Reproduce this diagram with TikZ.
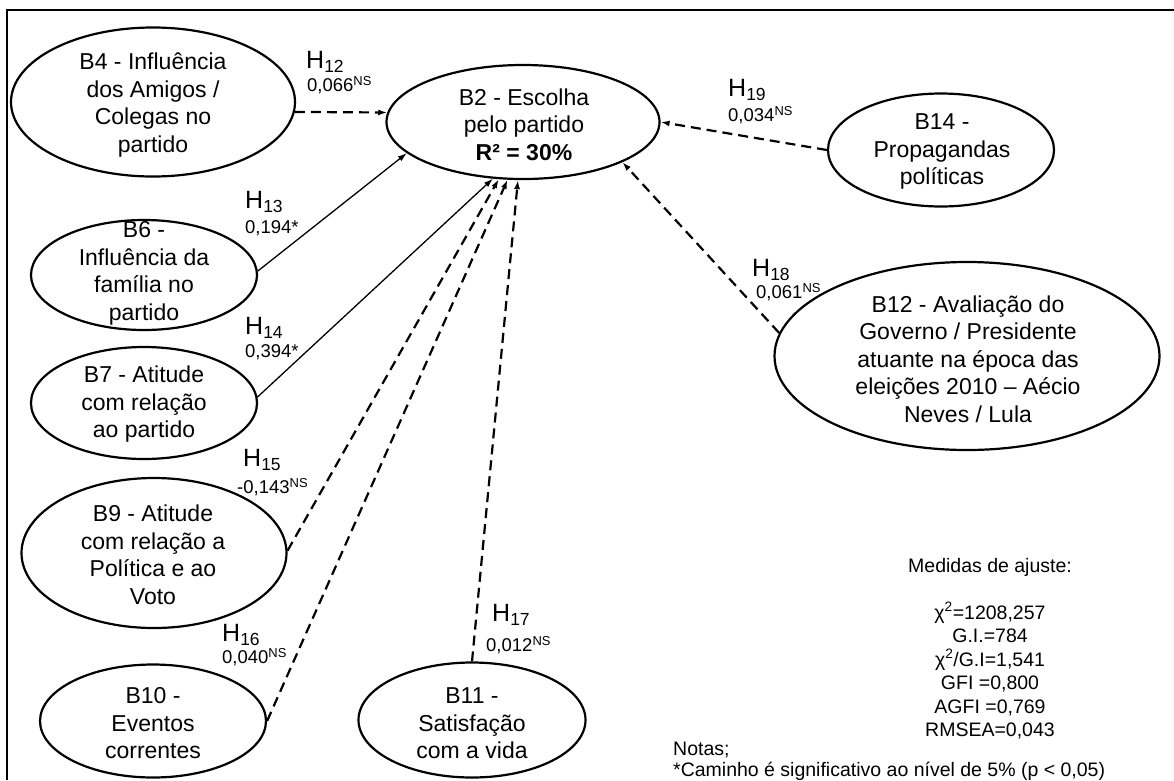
\documentclass[tikz,border=0pt]{standalone}
\usepackage{fontspec}
\setmainfont{Liberation Sans}
\usetikzlibrary{shapes.geometric, arrows.meta}

\begin{document}
\begin{tikzpicture}[
    x=1pt, y=-1pt,
    construct/.style={ellipse, draw=black, line width=2.2pt, inner sep=0pt},
    ctext/.style={align=center, inner sep=0pt, font=\fontsize{23}{27.5}\selectfont},
    hyp/.style={anchor=west, inner sep=0pt, font=\fontsize{25}{30}\selectfont},
    coef/.style={anchor=west, inner sep=0pt, font=\fontsize{18.5}{22}\selectfont},
    note/.style={inner sep=0pt, font=\fontsize{19.5}{23.5}\selectfont},
    sig/.style={-{Latex[length=9pt, width=6pt]}, line width=1.3pt},
    ns/.style={-{Latex[length=9pt, width=6pt]}, line width=2.2pt, dash pattern=on 10pt off 6pt},
]
    \useasboundingbox (0,0) rectangle (1174,780);
    % Frame (open at right and bottom)
    \draw[line width=2.8pt] (7,780) -- (7,10) -- (1174,10);

    % Dependent construct
    \node[construct, minimum width=273pt, minimum height=114pt] (B2) at (523,122) {};
    \node[ctext] at (524,124.5) {B2 - Escolha\\pelo partido\\\textbf{R² = 30\%}};

    % Left constructs
    \node[construct, minimum width=284pt, minimum height=149pt] (B4) at (153,102) {};
    \node[ctext] at (153,105) {B4 - Influência\\dos Amigos /\\Colegas no\\partido};

    \node[construct, minimum width=226pt, minimum height=110pt] (B6) at (144,275) {};
    \node[ctext] at (144,273.5) {B6 -\\Influência da\\família no\\partido};

    \node[construct, minimum width=226pt, minimum height=112pt] (B7) at (144,403) {};
    \node[ctext] at (144,404.5) {B7 - Atitude\\com relação\\ao partido};

    \node[construct, minimum width=265pt, minimum height=150pt] (B9) at (154,553) {};
    \node[ctext] at (153,555) {B9 - Atitude\\com relação a\\Política e ao\\Voto};

    \node[construct, minimum width=226pt, minimum height=113pt] (B10) at (153,721) {};
    \node[ctext] at (153,723.5) {B10 -\\Eventos\\correntes};

    % Bottom construct
    \node[construct, minimum width=227pt, minimum height=115pt] (B11) at (472,720) {};
    \node[ctext] at (472,723.5) {B11 -\\Satisfação\\com a vida};

    % Right constructs
    \node[construct, minimum width=226pt, minimum height=113pt] (B14) at (941,150) {};
    \node[ctext] at (942,151.5) {B14 -\\Propagandas\\políticas};

    \node[construct, minimum width=385pt, minimum height=188pt] (B12) at (967,356) {};
    \node[ctext] at (968,359) {B12 - Avaliação do\\Governo / Presidente\\atuante na época das\\eleições 2010 -- Aécio\\Neves / Lula};

    % Paths
    \draw[ns] (B4.-4) -- (B2.176);
    \draw[sig] (B6.2.5) -- (B2.-165);
    \draw[sig] (B7.3) -- (B2.-118);
    \draw[ns] (B9.1) -- (B2.-113);
    \draw[ns] (B10.0) -- (B2.-105);
    \draw[ns] (B11.north) -- (B2.-95);
    \draw[ns] (B14.west) -- (B2.east);
    \draw[ns] (B12.173) -- (B2.-22);

    % Hypotheses and coefficients
    \node[hyp] (h12) at (306,62) {H\textsubscript{12}};
    \node[coef] (c12) at (307,85) {0,066\textsuperscript{NS}};
    \node[hyp] (h13) at (245,202) {H\textsubscript{13}};
    \node[coef] (c13) at (245,228) {0,194*};
    \node[hyp] (h14) at (245,328) {H\textsubscript{14}};
    \node[coef] (c14) at (245,352) {0,394*};
    \node[hyp] (h15) at (243,460) {H\textsubscript{15}};
    \node[coef] (c15) at (237,487) {-0,143\textsuperscript{NS}};
    \node[hyp] (h16) at (222,635) {H\textsubscript{16}};
    \node[coef] (c16) at (222,657) {0,040\textsuperscript{NS}};
    \node[hyp] (h17) at (492,615) {H\textsubscript{17}};
    \node[coef] (c17) at (486,645) {0,012\textsuperscript{NS}};
    \node[hyp] (h19) at (728,90) {H\textsubscript{19}};
    \node[coef] (c19) at (728,115) {0,034\textsuperscript{NS}};
    \node[hyp] (h18) at (752,270) {H\textsubscript{18}};
    \node[coef] (c18) at (756,292) {0,061\textsuperscript{NS}};

    % Fit measures and notes
    \node[note, anchor=north, align=center] (fit) at (990,558)
        {Medidas de ajuste:\\[23.5pt]χ\textsuperscript{2}=1208,257\\G.I.=784\\χ\textsuperscript{2}/G.I=1,541\\GFI =0,800\\AGFI =0,769\\RMSEA=0,043};
    \node[note, anchor=base west] (notas) at (673,755) {Notas;};
    \node[note, anchor=base west] (nota1) at (673,776) {*Caminho é significativo ao nível de 5\% (p < 0,05)};
\end{tikzpicture}
\end{document}
